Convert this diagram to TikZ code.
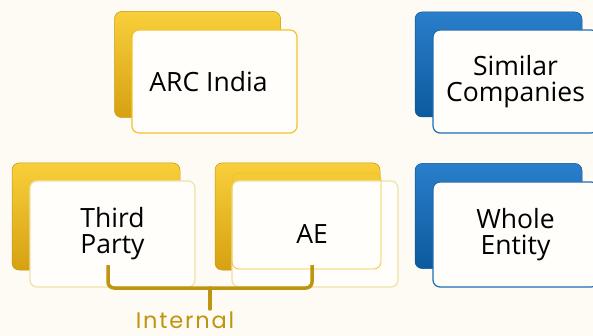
\documentclass[tikz,border=0pt]{standalone}
\usepackage{fontspec}
\setmainfont{Open Sans}
\newfontfamily\labelfont[LetterSpace=8]{Poppins}
\definecolor{bgcream}{HTML}{FDFBF4}
\definecolor{yTop}{HTML}{F8CF3A}
\definecolor{yBot}{HTML}{D6A112}
\definecolor{yEdge}{HTML}{C8960E}
\definecolor{bTop}{HTML}{2A7ECA}
\definecolor{bBot}{HTML}{0C5A9E}
\definecolor{bEdge}{HTML}{0B5596}
\definecolor{cardfill}{HTML}{FFFEFB}
\definecolor{yBorder}{HTML}{F4C22C}
\definecolor{paleBorder}{HTML}{EEE2A8}
\definecolor{bBorder}{HTML}{1E6DB4}
\definecolor{brace}{HTML}{BF940F}
\tikzset{
  backY/.style={rectangle, rounded corners=7pt, minimum width=166pt, minimum height=106pt, top color=yTop, bottom color=yBot, draw=yEdge, line width=0.5pt},
  backB/.style={rectangle, rounded corners=7pt, minimum width=167pt, minimum height=105pt, top color=bTop, bottom color=bBot, draw=bEdge, line width=0.5pt},
  front/.style={rectangle, rounded corners=7pt, minimum width=165pt, minimum height=104pt, fill=cardfill, line width=1.2pt, align=center, font=\fontsize{26.5}{26}\selectfont, text=black},
  frontY/.style={front, draw=yBorder},
  frontP/.style={front, draw=paleBorder},
  frontB/.style={front, draw=bBorder},
  bracepath/.style={draw=brace, line width=3.5pt, rounded corners=6pt},
}
\begin{document}
\begin{tikzpicture}[x=1pt,y=-1pt]
\useasboundingbox[fill=bgcream] (0,0) rectangle (593,336);
\begin{scope}
\clip (0,0) rectangle (593,336);
% ARC India
\node[backY] (arcB) at (197.5,64.5) {};
\node[frontY, minimum height=103pt] (arc) at (214.5,81.5) {\hspace*{-12pt}ARC India};
% Similar Companies
\node[backB] (simB) at (498.5,64.5) {};
\node[frontB, minimum height=103pt] (sim) at (515.5,81.5) {Similar\\Companies};
% Whole Entity
\node[backB] (wholeB) at (498.5,216) {};
\node[frontB, minimum height=105pt] (whole) at (515.5,234.5) {Whole\\Entity};
% Third Party
\node[backY, minimum width=168pt, minimum height=107pt] (tpB) at (96,216.5) {};
\node[frontP, minimum height=106pt] (tp) at (112.5,234) {Third\\Party};
% AE
\node[backY, minimum width=165pt, minimum height=107pt] (aeB) at (297.5,216.5) {};
\node[frontP, minimum width=166pt, minimum height=106pt] (ae) at (315,234) {\hspace*{-6pt}AE};
\node[rectangle, rounded corners=7pt, draw=yBorder, line width=0.8pt, minimum width=149pt, minimum height=96pt] (aeO) at (306.5,221) {};
\end{scope}
% bracket
\coordinate (bl) at (108,265);
\coordinate (br) at (312,265);
\coordinate (bm) at (210,288);
\coordinate (bt) at (210,309);
\draw[bracepath] (bl) -- (108,288) -- (bm);
\draw[bracepath] (br) -- (312,288) -- (bm);
\draw[draw=brace, line width=3.5pt, line cap=round] (bm) -- (bt);
\node[font=\labelfont\fontsize{22.5}{25}\selectfont, text=brace] (internal) at (185,320) {Internal};
\end{tikzpicture}
\end{document}
